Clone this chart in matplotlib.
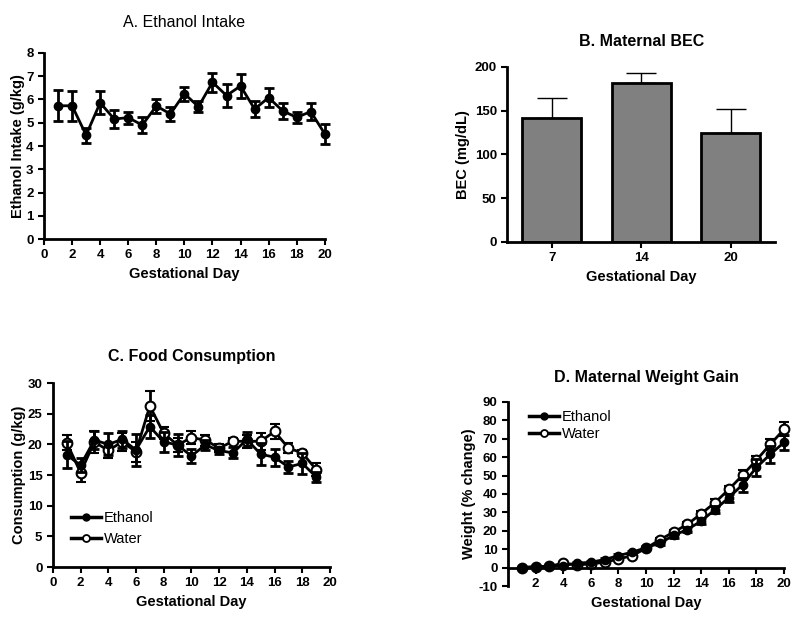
import matplotlib
matplotlib.use("Agg")
import matplotlib.pyplot as plt
from matplotlib.lines import Line2D
import numpy as np

plt.rcParams['font.family'] = ['Liberation Sans', 'DejaVu Sans']
plt.rcParams['axes.unicode_minus'] = False

# ---- Panel A data ----
daysA = list(range(1, 21))
ethanol_intake = [5.73, 5.73, 4.47, 5.86, 5.16, 5.22, 4.90, 5.72, 5.38, 6.25,
                  5.69, 6.74, 6.17, 6.58, 5.59, 6.08, 5.51, 5.23, 5.48, 4.52]
ethanol_intake_sem = [0.66, 0.64, 0.32, 0.50, 0.39, 0.26, 0.36, 0.28, 0.31, 0.30,
                      0.23, 0.40, 0.50, 0.50, 0.34, 0.41, 0.33, 0.23, 0.35, 0.42]

# ---- Panel B data ----
bec_days = ['7', '14', '20']
bec_vals = [142, 182, 125]
bec_sem = [23, 11, 27]

# ---- Panel C data ----
daysC = list(range(1, 20))
food_eth = [18.3, 16.6, 20.7, 20.0, 20.8, 19.1, 22.9, 20.4, 19.9, 18.1,
            19.9, 19.0, 18.6, 20.8, 18.4, 17.9, 16.3, 16.9, 14.7]
food_eth_sem = [2.2, 1.1, 1.5, 1.8, 1.4, 2.6, 1.9, 1.6, 1.8, 1.2,
                0.8, 0.6, 0.9, 1.2, 1.8, 1.4, 1.0, 1.7, 0.8]
food_wat = [20.3, 15.4, 20.4, 19.0, 20.4, 18.8, 26.25, 21.8, 19.9, 21.1,
            20.7, 19.4, 20.5, 20.5, 20.5, 22.1, 19.4, 18.6, 15.9]
food_wat_sem = [1.2, 1.6, 1.8, 1.2, 1.5, 1.6, 2.4, 1.0, 1.2, 1.1,
                0.9, 0.6, 0.5, 1.1, 1.4, 1.2, 0.8, 0.5, 1.0]

# ---- Panel D data ----
daysD = list(range(1, 21))
wt_eth = [0.0, 0.5, 0.8, 1.1, 2.4, 2.9, 4.4, 6.5, 8.4, 10.8,
          13.3, 17.5, 20.7, 25.3, 31.5, 38.0, 45.1, 54.4, 61.5, 68.0]
wt_eth_sem = [0.2, 0.3, 0.3, 0.4, 0.4, 0.5, 0.6, 0.7, 0.8, 0.9,
              1.0, 1.2, 1.4, 1.6, 1.8, 2.2, 3.8, 4.5, 4.5, 4.0]
wt_wat = [0.0, 0.5, 0.7, 2.4, 1.5, 2.0, 2.9, 4.7, 6.5, 10.5,
          15.1, 19.3, 23.5, 29.3, 35.3, 42.5, 50.2, 58.4, 66.9, 75.1]
wt_wat_sem = [0.2, 0.3, 0.3, 0.4, 0.4, 0.5, 0.6, 0.7, 0.8, 0.9,
              1.0, 1.2, 1.4, 1.6, 1.8, 2.0, 2.7, 2.5, 3.0, 3.8]

fig = plt.figure(figsize=(8, 6.3), dpi=100)

TICK_FS = 9.5
LAB_FS = 10.5
TITLE_FS = 11.5
MS = 6
CAP = 3.5


def style(ax):
    for s in ['top', 'right']:
        ax.spines[s].set_visible(False)
    for s in ['left', 'bottom']:
        ax.spines[s].set_linewidth(2)
    ax.tick_params(direction='out', length=4, width=1.5, labelsize=TICK_FS)
    for lab in ax.get_xticklabels() + ax.get_yticklabels():
        lab.set_fontweight('bold')


def legend_handles():
    eth = Line2D([], [], color='black', lw=2.5, marker='o', ms=5)
    wat = Line2D([], [], color='black', lw=2.5, marker='o', ms=5, mfc='white', mew=1.3)
    return [eth, wat], ['Ethanol', 'Water']


# Panel A
axA = fig.add_axes([0.055, 0.6206, 0.351, 0.2953])
axA.errorbar(daysA, ethanol_intake, yerr=ethanol_intake_sem, color='black', lw=2,
             marker='o', ms=MS, capsize=CAP, capthick=2, elinewidth=2, clip_on=False)
axA.set_xlim(0, 20)
axA.set_ylim(0, 8)
axA.set_xticks(range(0, 21, 2))
axA.set_yticks(range(0, 9))
axA.set_xlabel('Gestational Day', fontsize=LAB_FS, fontweight='bold')
axA.set_ylabel('Ethanol Intake (g/kg)', fontsize=LAB_FS, fontweight='bold', labelpad=1)
axA.set_title('A. Ethanol Intake', fontsize=TITLE_FS, pad=19)
style(axA)

# Panel B
axB = fig.add_axes([0.634, 0.616, 0.335, 0.2777])
xb = np.arange(len(bec_days))
axB.bar(xb, bec_vals, width=0.66, color='#808080', edgecolor='black', linewidth=2, zorder=2)
axB.errorbar(xb, bec_vals, yerr=[np.zeros(3), bec_sem], fmt='none', ecolor='black',
             elinewidth=1, capsize=11, capthick=1, zorder=1)
axB.set_xlim(-0.5, 2.5)
axB.set_ylim(0, 200)
axB.set_xticks(xb)
axB.set_xticklabels(bec_days)
axB.set_yticks(range(0, 201, 50))
axB.set_xlabel('Gestational Day', fontsize=LAB_FS, fontweight='bold')
axB.set_ylabel('BEC (mg/dL)', fontsize=LAB_FS, fontweight='bold', labelpad=3)
axB.set_title('B. Maternal BEC', fontsize=TITLE_FS, fontweight='bold', pad=15)
style(axB)

# Panel C
axC = fig.add_axes([0.066, 0.1, 0.3465, 0.292])
axC.errorbar(daysC, food_wat, yerr=food_wat_sem, color='black', lw=2, marker='o', ms=MS + 1,
             mfc='white', mec='black', mew=1.5, capsize=CAP, capthick=2, elinewidth=2,
             zorder=2)
axC.errorbar(daysC, food_eth, yerr=food_eth_sem, color='black', lw=2, marker='o', ms=MS,
             capsize=CAP, capthick=2, elinewidth=2, zorder=3)
axC.set_xlim(0, 20)
axC.set_ylim(0, 30)
axC.set_xticks(range(0, 21, 2))
axC.set_yticks(range(0, 31, 5))
axC.set_xlabel('Gestational Day', fontsize=LAB_FS, fontweight='bold')
axC.set_ylabel('Consumption (g/kg)', fontsize=LAB_FS, fontweight='bold', labelpad=1)
axC.set_title('C. Food Consumption', fontsize=TITLE_FS, fontweight='bold', pad=16)
h, l = legend_handles()
axC.legend(h, l, loc='upper left', bbox_to_anchor=(0.065, 0.305),
           frameon=False, fontsize=10.5, handlelength=2.1, handletextpad=0.15,
           labelspacing=0.5, borderaxespad=0, borderpad=0)
style(axC)

# Panel D
axD = fig.add_axes([0.635, 0.0698, 0.345, 0.2922])
axD.errorbar(daysD, wt_wat, yerr=wt_wat_sem, color='black', lw=2, marker='o', ms=MS + 1,
             mfc='white', mec='black', mew=1.5, capsize=CAP, capthick=2, elinewidth=2,
             zorder=2, clip_on=False)
axD.errorbar(daysD, wt_eth, yerr=wt_eth_sem, color='black', lw=2, marker='o', ms=MS,
             capsize=CAP, capthick=2, elinewidth=2, zorder=3, clip_on=False)
axD.set_xlim(0, 20)
axD.set_ylim(-10, 90)
axD.set_xticks(range(2, 21, 2))
axD.set_yticks(range(-10, 91, 10))
axD.spines['bottom'].set_position(('data', 0))
axD.set_xlabel('Gestational Day', fontsize=LAB_FS, fontweight='bold')
axD.set_ylabel('Weight (% change)', fontsize=LAB_FS, fontweight='bold', labelpad=2)
axD.set_title('D. Maternal Weight Gain', fontsize=TITLE_FS, fontweight='bold', pad=14)
h, l = legend_handles()
axD.legend(h, l, loc='upper left', bbox_to_anchor=(0.075, 0.955),
           frameon=False, fontsize=10.5, handlelength=2.1, handletextpad=0.15,
           labelspacing=0.2, borderaxespad=0, borderpad=0)
style(axD)

fig.savefig('out.png', dpi=100)
